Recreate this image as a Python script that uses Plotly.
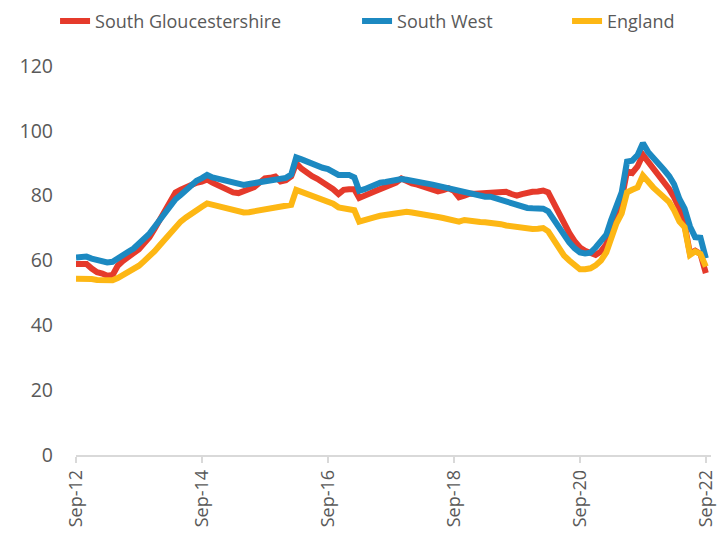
import pandas as pd
import plotly.graph_objects as go

months = pd.date_range("2012-09-01", periods=121, freq="MS")

south_glos = [
    58.9, 59.0, 58.9, 57.5, 56.4, 56.0, 55.3, 55.5, 58.4, 59.9,
    60.9, 62.2, 63.5, 65.3, 67.2, 69.8, 72.8, 75.8, 78.6, 81.0,
    81.8, 82.5, 83.5, 84.0, 84.3, 85.0, 84.0, 83.2, 82.8, 81.5,
    81.0, 80.8, 81.3, 82.2, 82.6, 84.0, 85.3, 85.5, 85.9, 84.4,
    84.8, 86.0, 90.0, 88.3, 86.9, 86.0, 85.2, 84.2, 83.2, 82.0,
    80.5, 81.8, 82.0, 82.0, 79.3, 79.8, 80.7, 81.4, 82.0, 82.3,
    83.2, 84.0, 85.3, 84.5, 83.8, 83.4, 83.0, 82.5, 82.0, 81.3,
    81.7, 82.3, 81.5, 79.5, 80.0, 80.6, 80.6, 80.7, 81.0, 81.3,
    81.2, 81.3, 81.2, 80.5, 80.0, 80.5, 81.0, 81.2, 81.3, 81.6,
    81.0, 77.8, 74.5, 71.0, 68.5, 66.0, 64.0, 63.0, 62.3, 61.7,
    62.8, 65.0, 69.5, 74.0, 79.0, 87.5, 87.0, 89.0, 92.6, 90.5,
    88.5, 86.5, 84.5, 82.0, 79.5, 76.0, 71.0, 62.2, 63.0, 62.0,
    56.1,
]

south_west = [
    60.9, 61.0, 61.2, 60.6, 60.2, 59.9, 59.4, 59.6, 60.8, 61.8,
    62.7, 63.7, 65.1, 66.7, 68.3, 70.4, 72.5, 74.6, 76.9, 78.9,
    80.2, 81.6, 83.3, 84.6, 85.4, 86.4, 85.6, 85.2, 84.8, 84.2,
    83.8, 83.5, 83.3, 83.6, 83.9, 84.3, 84.5, 84.8, 85.0, 85.2,
    85.5, 86.5, 91.8, 91.2, 90.5, 89.8, 89.2, 88.6, 88.2, 87.2,
    86.4, 86.4, 86.4, 85.6, 81.5, 82.0, 82.8, 83.6, 84.0, 84.2,
    84.5, 84.8, 85.1, 84.9, 84.7, 84.4, 84.0, 83.7, 83.4, 83.0,
    82.6, 82.2, 81.9, 81.5, 81.2, 80.9, 80.6, 80.2, 79.7, 79.7,
    79.2, 78.5, 78.0, 77.5, 76.9, 76.6, 76.2, 76.1, 76.0, 76.0,
    75.2, 72.8, 70.0, 67.5, 65.6, 63.8, 62.5, 62.2, 62.4, 64.0,
    65.8, 68.0, 72.5, 76.5, 81.0, 90.5, 90.8, 92.5, 96.2, 93.5,
    91.8, 90.0, 88.0, 86.0, 83.5, 79.0, 76.0, 70.5, 67.2, 67.0,
    60.7,
]

england = [
    54.4, 54.5, 54.6, 54.3, 54.0, 53.9, 53.8, 53.9, 54.6, 55.5,
    56.3, 57.4, 58.4, 59.8, 61.1, 62.9, 64.8, 66.6, 68.6, 70.6,
    72.0, 73.3, 74.5, 75.6, 76.6, 77.6, 77.2, 76.9, 76.4, 76.0,
    75.5, 75.1, 74.8, 74.9, 75.2, 75.4, 75.6, 75.8, 76.2, 76.4,
    76.8, 77.2, 81.8, 81.2, 80.6, 79.9, 79.2, 78.7, 78.3, 77.5,
    76.4, 76.1, 75.9, 75.5, 72.0, 72.6, 73.0, 73.4, 73.8, 74.1,
    74.5, 74.8, 75.1, 75.0, 74.8, 74.6, 74.3, 74.0, 73.7, 73.4,
    73.1, 72.8, 72.2, 72.0, 72.5, 72.2, 72.0, 71.9, 71.8, 71.7,
    71.5, 71.2, 70.8, 70.5, 70.3, 70.0, 69.8, 69.7, 69.8, 70.0,
    69.0, 66.3, 63.8, 61.5, 60.0, 58.5, 57.3, 57.3, 57.6, 58.5,
    60.0, 62.5, 67.0, 71.5, 74.5, 81.0, 81.8, 82.5, 86.2, 84.0,
    82.5, 81.0, 79.5, 78.0, 75.5, 72.0, 70.3, 61.7, 62.8, 62.0,
    58.1,
]

series_names = ["South Gloucestershire", "South West", "England"]
series_colors = ["#E53A2B", "#1C89C1", "#FDB714"]
legend_widths = [257, 165, None]
y_ticks = [0, 20, 40, 60, 80, 100, 120]

fig = go.Figure()
for name, vals, col, lw in zip(series_names, [south_glos, south_west, england],
                               series_colors, legend_widths):
    tr = go.Scatter(
        x=months, y=vals, name=name, mode="lines",
        line=dict(color=col, width=6),
    )
    if lw is not None:
        tr.legendwidth = lw
    fig.add_trace(tr)

FONT = "Open Sans"
fig.update_layout(
    width=720, height=525,
    margin=dict(l=68, r=17, t=58, b=78, autoexpand=False),
    paper_bgcolor="white", plot_bgcolor="white",
    font=dict(family=FONT, color="#595959", size=18),
    showlegend=True,
    legend=dict(
        orientation="h", x=-0.033, xanchor="left", y=1.115, yanchor="middle",
        font=dict(family=FONT, size=18, color="#595959"),
        traceorder="normal",
        bgcolor="rgba(0,0,0,0)",
    ),
    xaxis=dict(
        type="date", automargin=False,
        range=["2012-09-01", "2022-10-01"],
        tick0="2012-09-01", dtick="M24",
        tickformat="%b-%y", tickangle=-90,
        showgrid=False, zeroline=False,
        showline=True, linecolor="#D9D9D9", linewidth=1.5,
        ticks="outside", ticklen=6, tickcolor="#D9D9D9", tickwidth=1.5,
        tickfont=dict(family=FONT, size=18, color="#595959"),
    ),
    yaxis=dict(
        automargin=False,
        range=[0, 120], tickvals=y_ticks,
        showgrid=False, zeroline=False, showline=False,
        ticks="", ticklabelstandoff=22,
        tickfont=dict(family=FONT, size=19.5, color="#595959"),
    ),
)

fig.write_html("out.html")
